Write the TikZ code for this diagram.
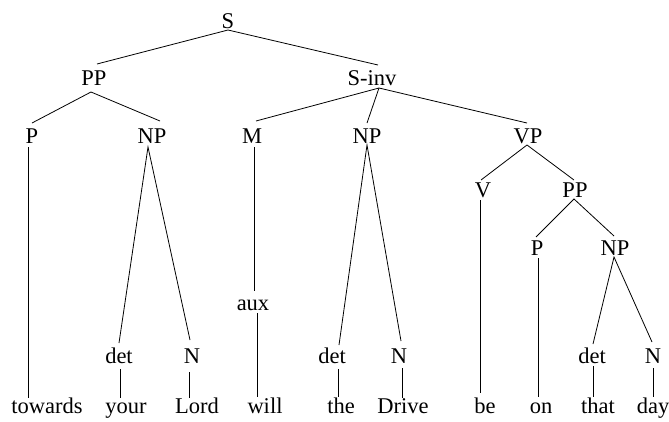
\documentclass[tikz,border=0pt]{standalone}
\usepackage{fontspec}
\setmainfont{Liberation Serif}
\begin{document}
\begin{tikzpicture}[x=1pt,y=-1pt,
  lbl/.style={anchor=base,inner sep=0pt,font=\fontsize{22.5}{26}\selectfont},
  edge/.style={line width=0.8pt}]
\useasboundingbox (0,0) rectangle (669,421);
% labels
\node[lbl] (S) at (228,28) {S};
\node[lbl] (PP) at (94,85) {PP};
\node[lbl] (Sinv) at (372,85) {S-inv};
\node[lbl] (P) at (32,143) {P};
\node[lbl] (NPa) at (152,143) {NP};
\node[lbl] (M) at (252,143) {M};
\node[lbl] (NPb) at (367,143) {NP};
\node[lbl] (VP) at (528,143) {VP};
\node[lbl] (V) at (483,197) {V};
\node[lbl] (PPb) at (575,197) {PP};
\node[lbl] (Pb) at (537,255) {P};
\node[lbl] (NPc) at (615,255) {NP};
\node[lbl] (aux) at (253,310) {aux};
\node[lbl] (deta) at (119,363) {det};
\node[lbl] (Na) at (192,363) {N};
\node[lbl] (detb) at (332,363) {det};
\node[lbl] (Nb) at (399,363) {N};
\node[lbl] (detc) at (592,363) {det};
\node[lbl] (Nc) at (653,363) {N};
\node[lbl] (towards) at (47,413) {towards};
\node[lbl] (your) at (126,413) {your};
\node[lbl] (Lord) at (197,413) {Lord};
\node[lbl] (will) at (265,413) {will};
\node[lbl] (the) at (341,413) {the};
\node[lbl] (Drive) at (403,413) {Drive};
\node[lbl] (be) at (485,413) {be};
\node[lbl] (on) at (541,413) {on};
\node[lbl] (that) at (598,413) {that};
\node[lbl] (day) at (653,413) {day};
% connection points
\coordinate (S-b) at (228,30);
\coordinate (PP-t) at (97,64);
\coordinate (Sinv-t) at (378,65);
\coordinate (PP-b) at (91,92);
\coordinate (P-t) at (32,123);
\coordinate (NPa-t) at (160,121);
\coordinate (P-b) at (28,147);
\coordinate (towards-t) at (28,398);
\coordinate (NPa-b) at (148,147);
\coordinate (deta-t) at (119,343);
\coordinate (Na-t) at (190,340);
\coordinate (deta-b) at (120,369);
\coordinate (your-t) at (120,398);
\coordinate (Na-b) at (189,372);
\coordinate (Lord-t) at (189,398);
\coordinate (Sinv-b) at (379,88);
\coordinate (M-t) at (256,121);
\coordinate (NPb-t) at (367,123);
\coordinate (VP-t) at (527,123);
\coordinate (M-b) at (254,147);
\coordinate (aux-t) at (254,291);
\coordinate (aux-b) at (257,313);
\coordinate (will-t) at (257,397);
\coordinate (NPb-b) at (367,145);
\coordinate (detb-t) at (339,345);
\coordinate (Nb-t) at (401,341);
\coordinate (detb-b) at (338,369);
\coordinate (the-t) at (338,397);
\coordinate (Nb-b) at (402,368);
\coordinate (Drive-t) at (402,398);
\coordinate (VP-b) at (527,145);
\coordinate (V-t) at (481,180);
\coordinate (PPb-t) at (574,180);
\coordinate (V-b) at (480,200);
\coordinate (be-t) at (480,393);
\coordinate (PPb-b) at (574,199);
\coordinate (Pb-t) at (536,237);
\coordinate (NPc-t) at (614,236);
\coordinate (Pb-b) at (538,258);
\coordinate (on-t) at (538,397);
\coordinate (NPc-b) at (614,257);
\coordinate (detc-t) at (593,344);
\coordinate (Nc-t) at (652,342);
\coordinate (detc-b) at (593,366);
\coordinate (that-t) at (593,397);
\coordinate (Nc-b) at (653,368);
\coordinate (day-t) at (653,397);
% edges
\draw[edge] (PP-t) -- (S-b) -- (Sinv-t);
\draw[edge] (P-t) -- (PP-b) -- (NPa-t);
\draw[edge] (P-b) -- (towards-t);
\draw[edge] (deta-t) -- (NPa-b) -- (Na-t);
\draw[edge] (deta-b) -- (your-t);
\draw[edge] (Na-b) -- (Lord-t);
\draw[edge] (M-t) -- (Sinv-b) -- (VP-t);
\draw[edge] (Sinv-b) -- (NPb-t);
\draw[edge] (M-b) -- (aux-t);
\draw[edge] (aux-b) -- (will-t);
\draw[edge] (detb-t) -- (NPb-b) -- (Nb-t);
\draw[edge] (detb-b) -- (the-t);
\draw[edge] (Nb-b) -- (Drive-t);
\draw[edge] (V-t) -- (VP-b) -- (PPb-t);
\draw[edge] (V-b) -- (be-t);
\draw[edge] (Pb-t) -- (PPb-b) -- (NPc-t);
\draw[edge] (Pb-b) -- (on-t);
\draw[edge] (detc-t) -- (NPc-b) -- (Nc-t);
\draw[edge] (detc-b) -- (that-t);
\draw[edge] (Nc-b) -- (day-t);
\end{tikzpicture}
\end{document}
